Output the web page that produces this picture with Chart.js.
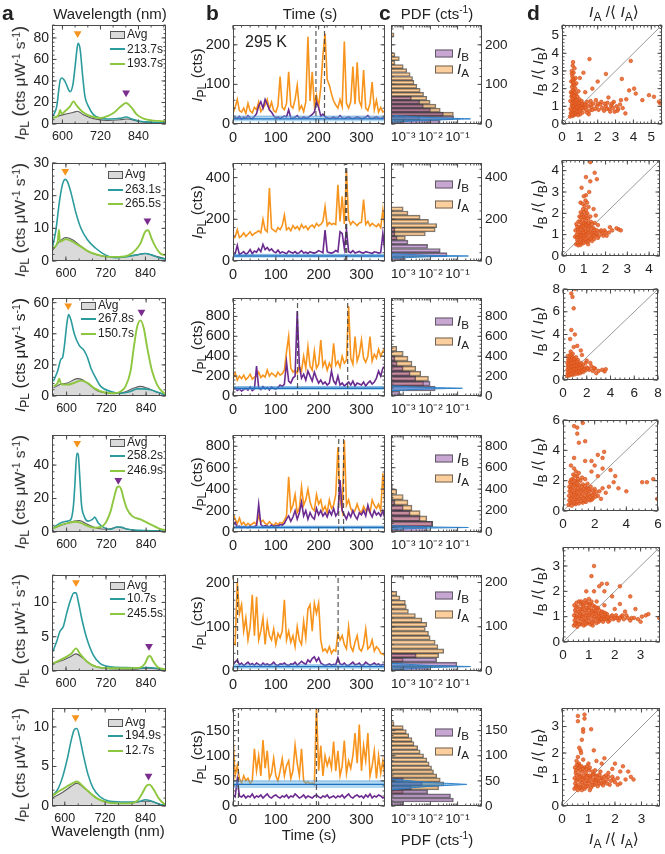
<!DOCTYPE html>
<html><head><meta charset="utf-8">
<script src="https://cdn.jsdelivr.net/npm/chart.js@4.4.1/dist/chart.umd.min.js"></script>
<style>
html,body{margin:0;padding:0;background:#fff}
body{width:665px;height:854px;position:relative;overflow:hidden;font-family:"Liberation Sans",Arial,"DejaVu Sans",sans-serif;color:#222}
canvas{position:absolute}
.t{position:absolute;white-space:nowrap;line-height:1;transform:translate(-50%,-50%)}
.r{transform:translate(-50%,-50%) rotate(-90deg)}
.l{transform:translate(0,-50%)}
.I{font-style:italic}
sub{font-size:0.78em;vertical-align:-0.32em;line-height:0}
sup{font-size:0.68em;vertical-align:0.5em;line-height:0}
.big{font-size:1.18em}
.pl{position:absolute;font-weight:bold;font-size:21px;line-height:1}
.sw{display:inline-block;width:15px;vertical-align:middle;margin-right:2px;box-sizing:border-box}
</style></head><body>
<script>
// ================= DATA =================
const tealTime  = [213.7, 263.1, 267.8, 258.2, 10.7, 194.9];
const greenTime = [193.7, 265.5, 150.7, 246.9, 245.5, 12.7];
const tempLabel = '295 K';

// --- column a : spectra (wavelength nm, intensity) ---
const wlTicks = [600, 720, 840];
const wlRange = [[567,927],[558,902],[556,900],[556,900],[558,900],[562,901]];
const specMax = [92, 30, 63, 58, 14, 12.4];
const specTicks = [[0,20,40,60,80],[0,10,20,30],[0,20,40,60],[0,20,40],[0,5,10],[0,5,10]];

const teal1 = [[570,7.1],[582,16.4],[593,41],[598,42.8],[608,39.7],[619,32],[624,30],[633,36.6],[640,53.6],[647,72],[650,75],[656,69],[664,44],[671,25.7],[682,16.4],[698,8.7],[719,5.6],[750,4.7],[782,5.3],[801,6.5],[819,4.7],[845,2.5],[887,1.6],[924,0.9]];
const green1 = [[570,5.6],[588,8.7],[593,13],[597,9.5],[608,11.8],[624,16.4],[635,21],[645,17],[661,11.8],[677,8.7],[698,6.5],[719,5.6],[740,7.1],[761,10.2],[782,15.8],[801,19.5],[819,14.9],[835,8.7],[856,5],[887,3.1],[924,2.5]];
const avg1 = [[570,5.6],[603,8.7],[635,10.9],[647,11.8],[666,8.7],[698,5],[740,3.4],[782,4.0],[803,4.7],[845,2.2],[924,0.9]];
const peaks1 = [[648,84],[801,29]];

const teal2 = [[560,4.4],[570,9.6],[580,17.9],[590,23.6],[598,25],[605,24.2],[615,21],[630,14.8],[645,10.1],[665,6.5],[690,3.9],[720,1.8],[750,1],[780,1.25],[810,1.8],[840,2.3],[860,1.8],[880,1],[900,0.6]];
const green2 = [[560,3.9],[575,5.9],[579,9.6],[582,5.9],[600,6.7],[620,5.9],[645,4.4],[670,2.8],[700,1.8],[730,1.25],[760,1.25],[790,1.8],[810,3.3],[825,5.4],[840,9.1],[848,9.4],[858,7],[870,4.4],[885,2.3],[900,1.8]];
const avg2 = [[560,3.3],[580,5.9],[600,7.2],[620,6.5],[645,4.6],[670,2.8],[710,1.5],[760,1.25],[810,1.8],[840,2.3],[870,1.5],[900,0.7]];
const peaks2 = [[598,27.5],[846,12.3]];

const teal3 = [[560,9.5],[573,16],[583,23.7],[588,24.8],[593,31.4],[601,46.8],[606,52.3],[613,49],[623,40.2],[638,32.5],[653,29.2],[663,24.8],[673,18.2],[688,11.6],[703,6.2],[733,2.9],[763,1.8],[793,2.9],[813,4.6],[828,4.6],[853,4.0],[878,2.2],[900,0.7]];
const green3 = [[560,6.2],[573,8.4],[578,11.2],[583,7.7],[603,7.3],[623,8.4],[643,9.9],[663,8.4],[683,5.1],[713,2.4],[743,1.8],[763,2.9],[778,6.2],[793,16],[803,31.4],[813,44.6],[823,48.6],[833,43.5],[843,31.4],[858,16],[873,7.3],[888,2.9],[900,1.1]];
const avg3 = [[560,5.1],[583,7.7],[603,8.4],[633,11.2],[648,10.5],[668,7.3],[693,3.3],[733,1.8],[773,2.4],[803,5.1],[823,6.2],[843,5.1],[873,2.4],[900,0.7]];
const peaks3 = [[605,58],[826,54]];

const teal4 = [[560,2.6],[583,5.5],[603,6.5],[613,7.5],[621,16.4],[625,28.3],[631,47.1],[635,46.5],[640,32.3],[645,16.4],[653,9.5],[665,6.5],[678,7.5],[685,8.9],[695,5.5],[713,2.6],[733,1.6],[753,3],[763,3],[783,1.6],[823,1.0],[900,0.6]];
const green4 = [[560,2.2],[583,4.2],[603,5.3],[628,6.1],[643,5.5],[663,3.6],[683,2.6],[703,3],[718,5.5],[733,12.5],[743,20.4],[753,26.9],[759,27.3],[765,25.3],[773,19.4],[783,13.5],[798,9.5],[823,7.5],[853,4.6],[878,2.2],[900,1.0]];
const avg4 = [[560,2.2],[593,4.6],[623,6.5],[638,6.9],[663,4.6],[693,2.2],[723,1.6],[753,3],[773,2.2],[803,1.0],[900,0.4]];
const peaks4 = [[632,53],[756,31]];

const teal5 = [[560,2.8],[572,4.3],[582,5.8],[592,6.5],[602,8.4],[612,10.1],[624,11.4],[630,11.4],[637,10.1],[647,7.7],[662,4.8],[682,2.3],[702,1.1],[732,0.6],[782,0.5],[822,0.4],[842,0.5],[872,0.4],[899,0.15]];
const green5 = [[560,1.1],[582,1.6],[602,2.1],[617,2.6],[630,3.3],[642,2.5],[662,1.4],[692,0.6],[732,0.4],[782,0.4],[822,0.5],[837,1.1],[847,2.1],[852,2.2],[862,1.4],[877,0.5],[899,0.25]];
const avg5 = [[560,1.1],[592,1.6],[617,2.2],[630,2.5],[652,1.85],[677,0.9],[712,0.4],[802,0.25],[842,0.4],[899,0.15]];
const peaks5 = [[630,12.9],[849,3.6]];

const teal6 = [[562,1.25],[579,2.1],[594,3.75],[609,6.25],[619,8.3],[629,9.7],[636,9.8],[644,8.75],[654,6.7],[669,4],[684,2.3],[704,1.2],[734,0.6],[784,0.5],[824,0.6],[839,0.8],[859,0.6],[884,0.2],[901,0.1]];
const green6 = [[562,1.25],[584,1.9],[604,2.4],[624,2.9],[636,3.1],[649,2.7],[669,1.9],[694,1],[734,0.4],[784,0.33],[814,0.6],[829,1.5],[844,2.6],[852,2.7],[864,2.1],[879,1],[894,0.33],[901,0.2]];
const avg6 = [[562,1.0],[594,1.75],[619,2.5],[636,2.9],[654,2.4],[674,1.7],[704,0.8],[744,0.4],[794,0.33],[834,0.6],[854,0.6],[884,0.2],[901,0.1]];
const peaks6 = [[632,11.2],[849,3.8]];

// --- column b : time traces (s, cts) ---
const timeTicks = [0, 100, 200, 300];
const timeMax = 355;
const timeSec = [0,5,10,15,20,25,30,35,40,45,50,55,60,65,70,75,80,85,90,95,100,105,110,115,120,125,130,135,140,145,150,155,160,165,170,175,180,185,190,195,200,205,210,215,220,225,230,235,240,245,250,255,260,265,270,275,280,285,290,295,300,305,310,315,320,325,330,335,340,345,350,355];
const ctsMax = [250, 470, 985, 905, 217, 195];
const ctsTicks = [[0,100,200],[0,200,400],[0,200,400,600,800],[0,200,400,600,800],[0,100,200],[0,50,100,150]];

const orangeCts1 = [28,42,62,34,30,40,27,52,33,28,42,36, 56,31,40,48,62,38,55,34,30,46,120,42, 36,52,132,46,40,62,98,36,46,31,56,220, 58,132,48,72,44,92,174,228,112,98,76,58, 48,40,62,44,208,52,40,56,145,50,156,58, 44,136,40,34,52,106,36,60,30,42,30,34];
const purpleCts1 = [12,16,14,19,12,17,14,21,15,13,19,26, 46,56,40,62,50,36,30,21,15,18,14,17, 20,18,36,15,14,17,21,15,14,18,15,16, 20,24,30,56,42,20,25,18,16,14,15,18, 14,16,21,15,14,16,18,15,14,15,18,16, 14,15,17,21,15,14,16,18,15,14,16,15];
const orangeCts2 = [108,115,150,112,120,135,118,128,140,122,132,138, 145,135,200,150,140,350,155,148,140,160,150,170, 220,150,160,145,170,155,165,150,175,158,168,150, 165,172,160,180,168,175,190,260,170,185,175,180, 175,365,190,310,178,430,200,175,190,180,170,182, 185,295,175,190,168,180,172,165,178,160,245,150];
const purpleCts2 = [28,35,75,30,38,45,32,40,55,35,48,42, 60,45,80,55,65,50,58,45,40,52,38,44, 40,35,48,42,38,45,36,40,50,38,42,36, 45,40,38,42,50,45,40,148,45,40,38,42, 50,44,140,132,60,150,45,40,50,38,42,46, 40,38,45,42,40,36,44,42,38,40,132,40];
const orangeCts3 = [170,230,160,200,175,210,165,185,220,170,190,200, 240,185,210,190,260,200,230,215,195,240,210,225, 260,445,600,280,240,260,230,300,250,400,280,495, 300,260,450,280,320,563,300,350,260,330,280,529, 310,350,290,400,330,360,904,380,320,597,350,420, 563,380,340,400,597,350,420,380,470,400,450,480];
const purpleCts3 = [60,80,55,70,50,65,75,60,90,55,70,300, 80,65,95,70,85,60,90,75,70,85,110,95, 120,340,150,130,180,200,853,300,180,220,160,250, 200,150,240,180,130,160,120,140,110,130,250,150, 120,200,110,130,100,120,140,110,150,100,130,120, 110,140,100,130,150,120,140,180,250,200,280,300];
const orangeCts4 = [180,120,80,130,70,90,60,80,65,75,90,70, 150,90,110,80,70,95,75,60,85,70,90,80, 110,150,516,200,250,350,180,220,420,250,300,400, 280,220,200,350,260,300,200,240,180,300,220,250, 350,790,300,200,855,250,300,220,180,200,260,200, 180,240,200,220,180,300,250,220,260,200,548,220];
const purpleCts4 = [60,90,45,55,40,50,45,40,55,45,50,60, 258,70,50,60,55,45,65,50,60,55,70,65, 80,120,150,100,140,200,120,180,280,150,200,120, 180,140,120,220,160,200,150,180,140,200,160,220, 150,180,484,200,160,120,180,140,200,150,120,180, 160,200,150,250,180,140,200,160,180,150,200,120];
const orangeCts5 = [65,60,200,130,150,90,120,70,100,172,80,168, 70,90,120,60,110,80,70,95,60,85,75,90, 161,70,90,65,80,55,100,70,60,112,75,140, 150,90,153,130,153,70,45,50,42,55,40,48, 45,85,70,80,60,50,100,55,45,65,80,50, 45,60,95,50,55,70,45,55,50,40,38,35];
const purpleCts5 = [15,20,25,14,18,12,16,20,14,17,13,18, 15,12,18,14,16,13,15,20,14,12,16,15, 18,14,12,16,15,20,13,17,22,18,15,25, 20,28,32,22,30,18,15,12,14,16,13,15, 14,30,16,14,18,13,12,16,20,14,15,18, 12,14,20,16,13,15,18,14,16,12,15,14];
const orangeCts6 = [135,60,80,55,45,60,50,55,45,50,114,70, 100,60,131,75,110,55,65,95,60,50,70,94, 60,80,90,55,70,121,85,60,114,50,45,48, 44,46,42,199,70,120,60,100,80,95,75,128, 70,110,60,80,130,65,90,75,100,145,85,162, 70,120,90,145,60,80,110,55,100,65,90,55];
const purpleCts6 = [22,18,53,20,18,22,16,20,18,24,16,20, 18,22,16,20,24,18,16,20,22,18,16,20, 18,22,16,20,18,24,20,16,18,22,16,20, 18,16,20,22,18,16,20,18,22,16,18,20, 16,20,18,22,16,20,24,18,16,20,22,18, 20,16,22,18,24,16,20,18,22,20,16,18];

// background level [low, mean, high] (cts)
const bgLevel = [[7,13,20],[15,24,32],[60,78,95],[30,42,55],[5,10,14],[36,43,50]];

// --- column c : PDF histograms [bin centre cts, pdf] ---
const pdfRange = [3.55e-4, 0.79];
const pdfTicks = [1e-3, 1e-2, 1e-1];
const pdfTickLabels = ['10\u207B\u00B3', '10\u207B\u00B2', '10\u207B\u00B9'];

const histA1 = [[225,4.6e-4],[175,5e-4],[165,7.2e-4],[155,5e-4],[145,1.0e-3],[135,1.35e-3],[125,1.8e-3],[115,2.2e-3],[105,2.5e-3],[95,3.2e-3],[85,4.2e-3],[75,5.6e-3],[65,7.4e-3],[55,9.8e-3],[45,0.016],[35,0.023],[25,0.07],[15,0.004]];
const histB1 = [[65,2e-3],[55,4e-3],[45,5.5e-3],[35,0.01],[25,0.03],[15,0.072],[5,0.023]];
const histA2 = [[250,1.0e-3],[230,1.5e-3],[210,4.2e-3],[190,8.5e-3],[170,0.017],[150,0.015],[130,6.5e-3],[110,1.2e-3]];
const histB2 = [[150,5e-4],[130,5e-4],[110,6e-4],[90,1.5e-3],[70,7.9e-3],[50,0.023],[30,0.041],[10,1.2e-3]];
const histA3 = [[475,5.8e-4],[425,1.0e-3],[375,1.5e-3],[325,2.1e-3],[275,2.9e-3],[225,4.4e-3],[175,8.5e-3],[125,5.6e-3]];
const histB3 = [[375,5e-4],[325,6e-4],[275,1.0e-3],[225,1.8e-3],[175,2.9e-3],[125,9.8e-3],[75,0.015],[25,7.5e-4]];
const histA4 = [[375,5.8e-4],[325,1.0e-3],[275,1.5e-3],[225,2.1e-3],[175,4.2e-3],[125,7.4e-3],[75,0.012],[25,6e-4]];
const histB4 = [[425,4e-4],[325,4e-4],[275,5e-4],[225,1.0e-3],[175,1.8e-3],[125,4.2e-3],[75,0.012],[25,7.4e-3]];
const histA5 = [[175,5.8e-4],[165,7.6e-4],[155,1.2e-3],[145,1.3e-3],[135,1.55e-3],[125,2.8e-3],[115,4.9e-3],[105,7.4e-3],[95,6.5e-3],[85,8.5e-3],[75,9.8e-3],[65,0.015],[55,0.019],[45,0.031],[35,0.02],[25,1e-3]];
const histB5 = [[35,3e-3],[25,0.017],[15,0.095],[5,8.5e-3]];
const histA6 = [[164,4.6e-4],[156,1.0e-3],[148,1.3e-3],[140,1.6e-3],[132,2.1e-3],[124,2.5e-3],[116,3.4e-3],[108,4.2e-3],[100,5.6e-3],[92,7.4e-3],[84,9e-3],[76,0.011],[68,0.013],[60,0.017],[52,0.023],[44,0.031],[36,0.02],[28,1e-3]];
const histB6 = [[52,1e-3],[44,5e-3],[36,2e-3],[28,8e-3],[20,0.055],[12,0.07],[4,1e-3]];

// background-noise PDF [cts, pdf]
const noise1 = [[5,1e-4],[5,5e-4],[8,3e-3],[10,0.015],[11.5,0.06],[12.5,0.18],[13,0.30],[13.5,0.18],[14.5,0.06],[16,0.015],[18,3e-3],[21,5e-4],[21,1e-4]];
const noise2 = [[14,1e-4],[14,5e-4],[18,3e-3],[21,0.012],[22.5,0.05],[23.5,0.15],[24,0.25],[24.5,0.15],[25.5,0.05],[27,0.012],[30,3e-3],[34,5e-4],[34,1e-4]];
const noise3 = [[55,1e-4],[55,5e-4],[65,2.5e-3],[71,0.01],[74,0.035],[76.5,0.09],[78,0.15],[79.5,0.09],[82,0.035],[85,0.01],[91,2.5e-3],[100,5e-4],[100,1e-4]];
const noise4 = [[25,1e-4],[25,5e-4],[33,3e-3],[37,0.012],[39.5,0.05],[41,0.15],[42,0.25],[43,0.15],[44.5,0.05],[47,0.012],[51,3e-3],[58,5e-4],[58,1e-4]];
const noise5 = [[3,1e-4],[3,5e-4],[6,3e-3],[8,0.015],[9,0.06],[9.6,0.18],[10,0.30],[10.4,0.18],[11,0.06],[12,0.015],[14,3e-3],[17,5e-4],[17,1e-4]];
const noise6 = [[33,1e-4],[33,5e-4],[37,3e-3],[39.5,0.012],[41,0.045],[42.3,0.13],[43,0.22],[43.7,0.13],[45,0.045],[46.5,0.012],[49,3e-3],[53,5e-4],[53,1e-4]];

// --- column d : normalised intensity correlation [IA/<IA>, IB/<IB>] ---
const ratioMax = [5.6, 4.5, 8, 6, 3.75, 3.7];
const ratioTicks = [[0,1,2,3,4,5],[0,1,2,3,4],[0,2,4,6,8],[0,2,4,6],[0,1,2,3],[0,1,2,3]];

const scat1 = [[0.45,0.42],[0.52,0.61],[0.48,0.85],[0.55,1.05],[0.47,1.3],[0.53,1.55],[0.5,1.8],[0.56,2.1],[0.52,2.4],[0.58,2.7],[0.55,3.0],[0.6,3.3],[0.62,3.5],[0.65,2.9],[0.68,2.5],[0.63,2.2],[0.66,1.9],[0.62,1.65],[0.67,1.4],[0.63,1.15],[0.68,0.9],[0.64,0.7],[0.66,0.5],[0.75,0.55],[0.78,0.75],[0.74,0.95],[0.77,1.2],[0.73,1.45],[0.79,1.7],[0.75,2.0],[0.8,2.3],[0.76,2.6],[0.85,0.6],[0.88,0.85],[0.84,1.05],[0.9,1.3],[0.86,1.55],[0.92,1.85],[0.95,0.7],[0.98,0.95],[1.0,1.15],[0.97,1.4],[1.05,0.8],[1.08,1.05],[1.1,1.3],[1.15,0.65],[1.2,0.9],[1.25,1.1],[1.35,0.8],[1.45,1.0],[1.55,0.75],[1.65,0.95],[1.75,1.15],[1.85,0.85],[1.95,1.0],[2.05,0.8],[2.15,1.1],[2.25,0.9],[2.35,0.75],[2.45,1.0],[2.55,1.2],[2.65,0.85],[2.75,1.05],[2.85,0.9],[2.95,0.7],[3.05,1.0],[3.15,0.85],[3.25,1.1],[3.4,0.9],[3.55,0.6],[1.4,1.25],[1.6,1.3],[1.9,1.35],[2.2,1.25],[2.9,1.25],[3.3,1.35],[1.5,0.55],[1.54,3.67],[2.46,2.83],[3.35,2.55],[3.85,3.57],[4.04,2.0],[3.76,1.9],[4.13,1.72],[4.5,1.35],[4.87,1.63],[5.15,1.54],[5.43,1.26],[5.5,1.17],[1.2,2.9],[1.0,2.6],[2.0,2.4],[1.7,2.0],[2.6,1.5],[3.6,1.4],[1.3,1.8],[0.5,0.62],[0.58,0.45],[0.71,0.62],[0.82,0.72],[0.7,1.05],[0.6,1.3],[0.57,1.75],[0.71,1.75],[0.6,2.45],[0.7,2.2],[0.55,2.85],[0.7,3.15],[0.93,1.05],[1.02,0.55],[1.3,0.95],[1.12,1.15],[1.4,0.65],[1.7,0.8],[2.0,1.15],[2.5,0.85],[2.8,1.15],[3.1,0.75],[0.58,0.52],[0.57,0.78],[0.6,1.0],[0.57,1.2],[0.6,1.45],[0.57,1.65],[0.6,1.9],[0.62,2.35],[0.6,2.55],[0.7,0.8],[0.72,1.3],[0.7,1.6],[0.82,0.95],[0.82,1.35],[0.9,0.5],[0.95,1.2],[1.1,0.9],[1.3,1.1],[1.6,1.1],[2.4,1.15],[2.7,0.7]];
const scat2 = [[0.65,0.55],[0.7,0.75],[0.68,1.0],[0.72,1.25],[0.66,1.5],[0.75,0.5],[0.8,0.65],[0.78,0.9],[0.82,1.1],[0.79,1.35],[0.83,1.6],[0.8,1.85],[0.9,0.6],[0.93,0.8],[0.88,1.0],[0.95,1.2],[0.9,1.45],[0.94,1.7],[0.92,1.95],[0.97,2.2],[1.0,0.7],[1.03,0.9],[1.0,1.1],[1.05,1.3],[1.02,1.55],[1.06,1.8],[1.0,2.05],[1.04,2.35],[1.08,2.6],[1.1,2.85],[1.12,0.65],[1.15,0.85],[1.12,1.05],[1.18,1.25],[1.14,1.5],[1.2,1.75],[1.16,2.0],[1.22,2.3],[1.25,0.75],[1.28,0.95],[1.3,1.15],[1.26,1.4],[1.33,1.6],[1.3,1.85],[1.4,0.9],[1.42,1.1],[1.45,1.3],[1.5,1.55],[1.38,0.7],[1.55,1.0],[1.6,1.2],[1.7,0.95],[1.75,1.15],[1.85,1.05],[1.95,1.2],[2.05,0.95],[2.15,1.1],[1.65,1.45],[0.6,0.9],[0.62,1.2],[1.3,4.4],[1.5,3.9],[1.6,3.6],[1.3,3.5],[1.1,3.7],[0.9,3.2],[1.0,2.8],[1.25,3.0],[2.3,1.2],[2.6,1.25],[2.7,1.2],[2.5,1.3],[2.2,1.35],[1.45,2.2],[1.55,1.9],[0.85,2.5],[0.72,0.62],[0.86,0.78],[0.96,0.98],[1.09,1.18],[1.2,1.4],[0.86,1.25],[0.98,1.5],[1.1,1.65],[0.86,2.05],[1.1,2.15],[1.36,1.3],[1.2,0.55],[1.48,0.8],[0.7,0.88],[0.74,1.12],[0.7,1.38],[0.76,1.62],[0.85,0.52],[0.86,0.95],[0.88,1.38],[0.87,1.8],[0.98,0.6],[0.99,1.4],[1.0,1.85],[1.08,0.8],[1.1,1.0],[1.1,1.45],[1.12,1.9],[1.2,0.7],[1.22,1.1],[1.22,1.55],[1.32,0.82],[1.36,1.05],[1.38,1.5],[1.48,0.95],[1.5,1.2],[1.6,1.05],[1.65,0.85],[1.8,1.2],[1.9,0.95],[2.0,1.1],[0.95,2.45],[1.15,2.5]];
const scat3 = [[0.35,0.35],[0.4,0.6],[0.38,0.9],[0.42,1.2],[0.37,1.5],[0.45,1.8],[0.4,2.1],[0.55,0.4],[0.6,0.7],[0.58,1.0],[0.62,1.3],[0.57,1.6],[0.63,1.9],[0.6,2.2],[0.65,2.5],[0.8,0.45],[0.83,0.75],[0.78,1.05],[0.85,1.35],[0.8,1.65],[0.86,1.95],[0.82,2.3],[1.0,0.5],[1.05,0.8],[1.0,1.1],[1.08,1.4],[1.02,1.7],[1.1,2.0],[1.25,0.55],[1.28,0.85],[1.22,1.15],[1.3,1.45],[1.26,1.75],[1.45,0.6],[1.5,0.9],[1.47,1.2],[1.52,1.5],[1.7,0.7],[1.72,1.0],[1.68,1.3],[1.9,0.85],[2.0,1.1],[2.2,0.9],[2.4,1.2],[2.5,0.8],[1.9,1.5],[2.3,1.5],[0.7,7.6],[0.8,7.3],[1.0,8.0],[0.9,6.3],[0.7,4.4],[1.0,4.0],[0.6,3.6],[1.2,3.0],[1.5,2.6],[0.9,2.9],[2.7,1.0],[3.3,0.9],[3.5,0.75],[3.6,0.95],[2.8,0.6],[1.6,2.2],[2.0,1.7],[0.48,0.45],[0.5,0.75],[0.5,1.05],[0.5,1.35],[0.52,1.7],[0.7,0.55],[0.7,0.85],[0.72,1.2],[0.7,1.5],[0.72,1.8],[0.72,2.1],[0.92,0.65],[0.92,0.95],[0.94,1.25],[0.92,1.55],[0.95,1.85],[1.15,0.7],[1.15,1.0],[1.15,1.3],[1.18,1.6],[1.38,0.75],[1.38,1.05],[1.4,1.35],[1.6,0.8],[1.6,1.15],[1.8,0.95],[2.1,1.0],[2.6,1.05],[3.0,0.8]];
const scat4 = [[0.35,0.4],[0.4,0.7],[0.38,1.0],[0.42,1.3],[0.4,1.6],[0.45,1.9],[0.55,0.35],[0.6,0.6],[0.58,0.9],[0.62,1.2],[0.57,1.5],[0.63,1.8],[0.6,2.1],[0.65,2.4],[0.8,0.45],[0.83,0.75],[0.78,1.05],[0.85,1.35],[0.8,1.65],[0.86,1.95],[0.82,2.6],[1.0,0.5],[1.05,0.8],[1.0,1.1],[1.08,1.4],[1.02,1.7],[1.1,2.0],[1.25,0.55],[1.28,0.85],[1.22,1.15],[1.3,1.45],[1.26,1.75],[1.45,0.6],[1.5,0.9],[1.47,1.2],[1.52,1.5],[1.55,1.8],[1.7,0.7],[1.72,1.0],[1.68,1.3],[1.75,1.6],[1.9,0.85],[1.95,1.15],[2.0,1.45],[2.2,1.0],[2.3,1.3],[2.5,1.5],[2.4,0.8],[0.5,3.0],[0.7,2.8],[0.9,2.3],[1.2,2.2],[1.4,2.1],[1.0,2.5],[0.7,5.6],[0.9,5.5],[1.2,6.0],[1.25,5.8],[0.9,5.1],[1.0,4.5],[1.4,4.6],[0.7,3.5],[1.4,3.3],[1.8,3.3],[2.2,3.7],[2.5,3.5],[2.6,3.9],[2.0,3.0],[2.5,2.8],[3.0,2.7],[3.2,1.9],[3.5,1.5],[4.0,1.3],[5.0,1.9],[5.3,1.9],[5.7,2.1],[5.95,0.8],[2.7,1.2],[3.3,2.3],[2.9,1.6],[1.8,2.6],[2.2,2.3],[0.48,0.55],[0.5,0.85],[0.5,1.15],[0.48,1.45],[0.52,1.75],[0.5,2.05],[0.7,0.5],[0.72,0.8],[0.7,1.1],[0.72,1.4],[0.7,1.7],[0.74,2.0],[0.9,0.6],[0.92,0.9],[0.9,1.2],[0.94,1.5],[0.9,1.8],[1.15,0.65],[1.15,0.95],[1.15,1.3],[1.18,1.6],[1.38,0.7],[1.38,1.0],[1.4,1.35],[1.4,1.65],[1.6,0.8],[1.6,1.1],[1.62,1.45],[1.82,0.75],[1.85,1.05],[1.85,1.35],[2.1,1.25],[2.05,0.95],[0.75,2.3],[0.95,2.1]];
const scat5 = [[0.42,0.65],[0.45,0.85],[0.43,1.05],[0.47,1.25],[0.44,1.45],[0.55,0.6],[0.58,0.8],[0.53,1.0],[0.6,1.2],[0.56,1.4],[0.62,1.6],[0.68,0.7],[0.7,0.9],[0.66,1.1],[0.72,1.3],[0.69,1.5],[0.8,0.65],[0.82,0.85],[0.78,1.05],[0.85,1.25],[0.8,1.45],[0.86,1.65],[0.92,0.75],[0.95,0.95],[0.9,1.15],[0.97,1.35],[0.93,1.55],[1.05,0.7],[1.08,0.9],[1.03,1.1],[1.1,1.3],[1.06,1.5],[1.18,0.8],[1.2,1.0],[1.16,1.2],[1.22,1.4],[1.3,0.75],[1.33,0.95],[1.28,1.15],[1.35,1.35],[1.42,0.85],[1.45,1.05],[1.4,1.25],[1.55,0.8],[1.58,1.0],[1.52,1.2],[1.65,0.9],[1.7,1.1],[1.8,0.85],[1.85,1.0],[1.95,0.9],[2.05,1.05],[2.15,0.85],[2.25,1.0],[2.35,0.9],[2.5,0.95],[2.6,0.85],[2.75,0.95],[2.9,0.9],[3.05,1.0],[1.0,1.7],[1.3,1.6],[1.6,1.45],[2.0,1.3],[2.4,1.2],[1.2,3.0],[1.1,2.6],[1.5,2.3],[1.7,2.3],[1.2,2.0],[1.6,2.0],[2.2,2.2],[2.6,1.8],[3.2,1.05],[3.3,1.1],[3.72,0.95],[2.2,1.5],[1.9,1.8],[1.4,2.2],[0.9,2.0],[2.8,1.3],[3.0,0.8],[0.5,0.75],[0.5,1.15],[0.63,0.95],[0.75,1.2],[0.88,1.05],[1.0,1.25],[1.12,1.05],[1.25,1.25],[1.38,1.1],[1.5,0.95],[1.62,1.15],[1.75,0.95],[1.9,1.05],[2.1,0.95],[2.3,1.05],[1.15,0.65],[0.75,1.55],[0.48,0.72],[0.5,0.95],[0.5,1.35],[0.52,1.55],[0.62,0.7],[0.64,1.05],[0.65,1.3],[0.75,0.78],[0.76,1.0],[0.77,1.4],[0.88,0.7],[0.88,0.9],[0.9,1.35],[0.9,1.55],[1.0,0.8],[1.0,1.05],[1.02,1.45],[1.12,0.75],[1.12,1.2],[1.15,1.45],[1.25,0.9],[1.25,1.1],[1.28,1.35],[1.38,0.8],[1.38,1.0],[1.48,0.9],[1.48,1.15],[1.6,0.9],[1.62,1.08],[1.72,0.98],[1.75,0.8],[2.0,0.95],[2.2,0.95],[2.45,1.05],[2.65,0.95],[0.7,1.6],[1.1,1.6]];
const scat6 = [[0.47,0.65],[0.5,0.85],[0.48,1.05],[0.52,1.25],[0.49,1.45],[0.6,0.6],[0.63,0.8],[0.58,1.0],[0.65,1.2],[0.61,1.4],[0.64,1.6],[0.72,0.7],[0.75,0.9],[0.7,1.1],[0.77,1.3],[0.73,1.5],[0.85,0.65],[0.87,0.85],[0.83,1.05],[0.9,1.25],[0.85,1.45],[0.97,0.75],[1.0,0.95],[0.95,1.15],[1.02,1.35],[1.1,0.7],[1.13,0.9],[1.08,1.1],[1.15,1.3],[1.22,0.8],[1.25,1.0],[1.2,1.2],[1.35,0.75],[1.38,0.95],[1.33,1.15],[1.48,0.85],[1.5,1.05],[1.6,0.9],[1.7,1.0],[1.8,0.8],[1.9,1.1],[2.0,0.9],[2.1,1.05],[2.2,0.85],[1.45,1.3],[1.75,1.25],[0.55,1.7],[0.8,1.75],[1.0,1.6],[0.6,3.4],[0.6,3.2],[0.85,3.45],[0.85,3.3],[0.8,2.9],[0.8,2.8],[1.1,2.9],[0.75,2.5],[0.65,2.2],[0.7,2.1],[1.2,2.1],[1.3,1.7],[1.5,1.6],[1.6,1.8],[2.0,1.6],[2.2,1.3],[2.3,1.5],[2.5,1.3],[2.6,1.1],[2.7,1.0],[1.9,1.4],[2.4,1.0],[0.55,0.75],[0.55,1.15],[0.68,0.95],[0.8,1.15],[0.92,0.95],[1.05,1.15],[1.18,1.0],[1.3,0.95],[1.42,1.05],[1.55,0.95],[1.65,1.15],[1.85,0.95],[0.68,1.35],[0.95,1.5],[1.25,1.35],[0.6,1.55],[1.05,0.6],[0.75,0.6],[0.52,0.72],[0.54,0.95],[0.53,1.35],[0.56,1.55],[0.66,0.7],[0.66,1.1],[0.67,1.48],[0.78,0.78],[0.79,1.0],[0.8,1.4],[0.9,0.72],[0.92,1.1],[0.92,1.38],[1.02,0.85],[1.04,1.05],[1.05,1.45],[1.15,0.78],[1.16,1.18],[1.28,0.88],[1.28,1.1],[1.4,0.85],[1.42,1.18],[1.55,0.78],[1.58,1.1],[1.7,0.85],[1.75,1.1],[1.95,1.0],[2.1,0.8],[0.6,1.85],[0.72,2.0]];

// ================= LAYOUT =================
const rowTop = [25, 163, 298, 435, 575, 708];
const rowH   = [99, 98, 98, 97, 96, 98];
const colA = [52, 114], colB = [233, 152], colC = [391, 91];
const dBox = [[562,25,100,99],[562,160,98,96],[563,289,95,91],[563,420,95,91],[563,547,97,95],[562,708,98,98]];
const legAx = [110,108,81,110,110,108];
const legAy = [[34,48.5,63],[174,189,203],[305,318,333],[442,455,470],[585,598,613],[722,735,750]];
const legCy = [[52,68],[183,203],[320,340],[457,477],[594,613],[731,750]];

const C = {orange:'#f7941d', purple:'#6b2a90', teal:'#2b9b9d', green:'#8dc63f', tri2:'#7b2d8e', scatter:'#d9521b'};

const specTeal = [teal1,teal2,teal3,teal4,teal5,teal6];
const specGreen = [green1,green2,green3,green4,green5,green6];
const specAvg = [avg1,avg2,avg3,avg4,avg5,avg6];
const specPeaks = [peaks1,peaks2,peaks3,peaks4,peaks5,peaks6];
const traceA = [orangeCts1,orangeCts2,orangeCts3,orangeCts4,orangeCts5,orangeCts6];
const traceB = [purpleCts1,purpleCts2,purpleCts3,purpleCts4,purpleCts5,purpleCts6];
const histA = [histA1,histA2,histA3,histA4,histA5,histA6];
const histB = [histB1,histB2,histB3,histB4,histB5,histB6];
const noise = [noise1,noise2,noise3,noise4,noise5,noise6];
const scat = [scat1,scat2,scat3,scat4,scat5,scat6];

// ================= HELPERS =================
Chart.defaults.font.family = '"Liberation Sans", Arial, sans-serif';
Chart.defaults.color = '#222';

const framePlugin = {
  id: 'frame',
  afterDraw(chart) {
    const o = chart.options.plugins.frame || {};
    const {ctx, chartArea: a} = chart;
    const xs = chart.scales.x, ys = chart.scales.y;
    const L = Math.round(a.left) + 0.5, R = Math.round(a.right) - 0.5;
    const T = Math.round(a.top) + 0.5, B = Math.round(a.bottom) - 0.5;
    ctx.save();
    ctx.strokeStyle = '#4a4a4a'; ctx.lineWidth = 1;
    ctx.beginPath();
    const tk = (isX, v, len) => {
      const p = (isX ? xs : ys).getPixelForValue(v);
      if (isX) { if (p < a.left - 0.5 || p > a.right + 0.5) return; ctx.moveTo(p, B); ctx.lineTo(p, B - len); ctx.moveTo(p, T); ctx.lineTo(p, T + len); }
      else { if (p < a.top - 0.5 || p > a.bottom + 0.5) return; ctx.moveTo(L, p); ctx.lineTo(L + len, p); ctx.moveTo(R, p); ctx.lineTo(R - len, p); }
    };
    (o.xMaj || []).forEach(v => tk(true, v, 4));
    (o.xMin || []).forEach(v => tk(true, v, 2));
    (o.yMaj || []).forEach(v => tk(false, v, 4));
    (o.yMin || []).forEach(v => tk(false, v, 2));
    ctx.stroke();
    ctx.strokeRect(L, T, R - L, B - T);
    ctx.restore();
  }
};
Chart.register(framePlugin);

function linMinor(min, max, ticks, div) {
  const step = (ticks[1] - ticks[0]) / div, out = [];
  for (let k = Math.ceil(min / step - 1e-9); k * step <= max + 1e-9; k++) out.push(k * step);
  return out;
}
function logMinor(min, max) {
  const out = [];
  for (let e = -5; e <= 1; e++) for (let m = 2; m <= 9; m++) { const v = m * Math.pow(10, e); if (v >= min && v <= max) out.push(v); }
  return out;
}
function makeCanvas(L, T, W, H, p) {
  const c = document.createElement('canvas');
  const cw = W + p.l + p.r, ch = H + p.t + p.b;
  c.width = cw; c.height = ch;
  c.style.left = (L - p.l) + 'px'; c.style.top = (T - p.t) + 'px';
  c.style.width = cw + 'px'; c.style.height = ch + 'px';
  document.body.appendChild(c);
  return c;
}
function xAxis(type, min, max, ticks, size, h, cb) {
  return {type, min, max, offset:false, grid:{display:false, drawTicks:false}, border:{display:false},
    ticks:{font:{size}, color:'#222', padding:5, autoSkip:false, maxRotation:0, minRotation:0, callback: cb || (v => String(v))},
    afterBuildTicks: s => { s.ticks = ticks.map(v => ({value:v})); },
    afterFit: s => { s.height = h; s.paddingLeft = 0; s.paddingRight = 0; }};
}
function yAxis(type, min, max, ticks, size, w, pos) {
  return {type, min, max, position: pos || 'left', offset:false, grid:{display:false, drawTicks:false}, border:{display:false},
    ticks:{font:{size}, color:'#222', padding:3, autoSkip:false, callback: v => String(v)},
    afterBuildTicks: s => { s.ticks = ticks.map(v => ({value:v})); },
    afterFit: s => { s.width = w; s.paddingTop = 0; s.paddingBottom = 0; }};
}
function opts(p, scales, frame, right, extra) {
  return Object.assign({responsive:false, animation:false, events:[],
    layout:{autoPadding:false, padding: right ? {left:p.l, right:0, top:p.t, bottom:0} : {left:0, right:p.r, top:p.t, bottom:0}},
    plugins:{legend:{display:false}, tooltip:{enabled:false}, frame},
    scales}, extra || {});
}
const xy = arr => arr.map(d => ({x:d[0], y:d[1]}));

function addText(html, x, y, size, cls, style) {
  const d = document.createElement('div');
  d.className = 't ' + (cls || '');
  d.style.left = x + 'px'; d.style.top = y + 'px'; d.style.fontSize = size + 'px';
  if (style) Object.assign(d.style, style);
  d.innerHTML = html;
  document.body.appendChild(d);
  return d;
}

// ================= PANELS =================
for (let r = 0; r < 6; r++) {
  const T = rowTop[r], H = rowH[r];

  // ---- a : spectra ----
  {
    const p = {l:40, r:6, t:6, b:24};
    const cv = makeCanvas(colA[0], T, colA[1], H, p);
    const pk = specPeaks[r];
    new Chart(cv, {
      type:'line',
      data:{datasets:[
        {type:'scatter', data:[{x:pk[0][0], y:pk[0][1]}], pointStyle:'triangle', rotation:180, pointRadius:4.5, backgroundColor:C.orange, borderColor:C.orange, borderWidth:0},
        {type:'scatter', data:[{x:pk[1][0], y:pk[1][1]}], pointStyle:'triangle', rotation:180, pointRadius:4.5, backgroundColor:C.tri2, borderColor:C.tri2, borderWidth:0},
        {data:xy(specGreen[r]), borderColor:C.green, borderWidth:1.9, pointRadius:0, fill:false, cubicInterpolationMode:'monotone'},
        {data:xy(specTeal[r]), borderColor:C.teal, borderWidth:1.6, pointRadius:0, fill:false, cubicInterpolationMode:'monotone'},
        {data:xy(specAvg[r]), borderColor:'#5c5c5c', borderWidth:1.1, backgroundColor:'#dadada', fill:'origin', pointRadius:0, cubicInterpolationMode:'monotone'}
      ]},
      options: opts(p, {
        x: xAxis('linear', wlRange[r][0], wlRange[r][1], wlTicks, 12.5, p.b),
        y: yAxis('linear', 0, specMax[r], specTicks[r], 14, p.l)
      }, {xMaj:wlTicks, xMin:linMinor(wlRange[r][0], wlRange[r][1], wlTicks, 3), yMaj:specTicks[r], yMin:linMinor(0, specMax[r], specTicks[r], 5)})
    });
  }

  // ---- b : time traces ----
  {
    const p = {l:40, r:4, t:6, b:24};
    const cv = makeCanvas(colB[0], T, colB[1], H, p);
    const bg = bgLevel[r];
    const trace = arr => timeSec.map((t, i) => ({x:t, y:arr[i]}));
    new Chart(cv, {
      type:'line',
      data:{datasets:[
        {data:[{x:tealTime[r], y:0},{x:tealTime[r], y:ctsMax[r]}], borderColor:'rgba(60,60,60,0.85)', borderDash:[5,3], borderWidth:1.2, pointRadius:0},
        {data:[{x:greenTime[r], y:0},{x:greenTime[r], y:ctsMax[r]}], borderColor:'rgba(60,60,60,0.85)', borderDash:[5,3], borderWidth:1.2, pointRadius:0},
        {data:[{x:0, y:bg[1]},{x:timeMax, y:bg[1]}], borderColor:'#1f6fbf', borderWidth:1.4, pointRadius:0},
        {data:[{x:0, y:bg[2]},{x:timeMax, y:bg[2]}], borderColor:'rgba(50,130,200,0.6)', borderWidth:0.8, backgroundColor:'rgba(100,180,230,0.5)', fill:{value:bg[0]}, pointRadius:0},
        {data:trace(traceB[r]), borderColor:C.purple, borderWidth:1.6, pointRadius:0},
        {data:trace(traceA[r]), borderColor:C.orange, borderWidth:1.6, pointRadius:0}
      ]},
      options: opts(p, {
        x: xAxis('linear', 0, timeMax, timeTicks, 14.5, p.b),
        y: yAxis('linear', 0, ctsMax[r], ctsTicks[r], 14.5, p.l)
      }, {xMaj:timeTicks, xMin:linMinor(0, timeMax, timeTicks, 5), yMaj:ctsTicks[r], yMin:linMinor(0, ctsMax[r], ctsTicks[r], 5)})
    });
  }

  // ---- c : histograms ----
  {
    const p = {l:4, r:34, t:6, b:24};
    const cv = makeCanvas(colC[0], T, colC[1], H, p);
    const bars = arr => arr.map(d => ({x:d[1], y:d[0]}));
    new Chart(cv, {
      type:'bar',
      data:{datasets:[
        {type:'line', data:noise[r].map(d => ({x:d[1], y:d[0]})), fill:'shape', backgroundColor:'rgba(45,140,215,0.55)', borderColor:'#2a7fc8', borderWidth:1, pointRadius:0, tension:0.2},
        {data:bars(histB[r]), backgroundColor:'rgba(130,60,155,0.45)', borderColor:'rgba(55,55,55,0.7)', borderWidth:1, barPercentage:1, categoryPercentage:1, grouped:false, base:pdfRange[0]},
        {data:bars(histA[r]), backgroundColor:'rgba(247,160,60,0.5)', borderColor:'rgba(55,55,55,0.7)', borderWidth:1, barPercentage:1, categoryPercentage:1, grouped:false, base:pdfRange[0]}
      ]},
      options: opts(p, {
        x: xAxis('logarithmic', pdfRange[0], pdfRange[1], pdfTicks, 13.5, p.b, (v, i) => pdfTickLabels[i]),
        y: yAxis('linear', 0, ctsMax[r], ctsTicks[r], 13.5, p.r, 'right')
      }, {xMaj:pdfTicks, xMin:logMinor(pdfRange[0], pdfRange[1]), yMaj:ctsTicks[r], yMin:linMinor(0, ctsMax[r], ctsTicks[r], 5)}, true, {indexAxis:'y'})
    });
  }

  // ---- d : scatter ----
  {
    const [L, TT, W, HH] = dBox[r];
    const p = {l:18, r:6, t:6, b:22};
    const cv = makeCanvas(L, TT, W, HH, p);
    const m = ratioMax[r];
    new Chart(cv, {
      type:'scatter',
      data:{datasets:[
        {data:xy(scat[r]), pointRadius:1.8, pointBackgroundColor:'rgba(230,100,40,0.85)', pointBorderColor:C.scatter, pointBorderWidth:0.7},
        {data:[{x:0, y:0},{x:m, y:m}], showLine:true, borderColor:'#9a9a9a', borderWidth:1, pointRadius:0}
      ]},
      options: opts(p, {
        x: xAxis('linear', 0, m, ratioTicks[r], 13.5, p.b),
        y: yAxis('linear', 0, m, ratioTicks[r], 13.5, p.l)
      }, {xMaj:ratioTicks[r], xMin:linMinor(0, m, ratioTicks[r], 5), yMaj:ratioTicks[r], yMin:linMinor(0, m, ratioTicks[r], 5)})
    });
  }

  // ---- texts for this row ----
  const IPL = '<span class="I">I</span><sub>PL</sub>';
  addText(IPL + ' <span class="big">(</span>cts &mu;W<sup>-1</sup> s<sup>-1</sup><span class="big">)</span>', 19, T + H / 2 + 8, 15.5, 'r');
  addText(IPL + ' (cts)', 197, T + H / 2, 15.5, 'r');
  const db = dBox[r];
  addText('<span class="I">I</span><sub>B</sub> /\u27E8 <span class="I">I</span><sub>B</sub>\u27E9', 538, db[1] + db[3] / 2 - 4, 15.5, 'r');

  // legend a
  const lx = legAx[r], ly = legAy[r];
  addText('<span class="sw" style="height:8px;background:#dadada;border:1px solid #555"></span>Avg', lx, ly[0], 12, 'l');
  addText('<span class="sw" style="height:2px;background:' + C.teal + '"></span>' + tealTime[r].toFixed(1) + 's', lx, ly[1], 12, 'l');
  addText('<span class="sw" style="height:2px;background:' + C.green + '"></span>' + greenTime[r].toFixed(1) + 's', lx, ly[2], 12, 'l');
  // legend c
  const cy = legCy[r];
  addText('<span class="sw" style="width:18px;height:8px;margin-right:4px;background:rgba(130,60,155,0.45);border:1px solid rgba(55,55,55,0.7)"></span><span class="I">I</span><sub>B</sub>', 435, cy[0], 15, 'l');
  addText('<span class="sw" style="width:18px;height:8px;margin-right:4px;background:rgba(247,160,60,0.5);border:1px solid rgba(55,55,55,0.7)"></span><span class="I">I</span><sub>A</sub>', 435, cy[1], 15, 'l');
}

// ---- global titles ----
const letters = [['a',2],['b',206],['c',379],['d',527]];
letters.forEach(([t, x]) => { const d = document.createElement('div'); d.className = 'pl'; d.style.left = x + 'px'; d.style.top = '2px'; d.textContent = t; document.body.appendChild(d); });
addText('Wavelength (nm)', 110, 13, 15);
addText('Time (s)', 310, 13, 15);
addText('PDF (cts<sup>-1</sup>)', 437, 13, 15);
addText('<span class="I">I</span><sub>A</sub> /\u27E8 <span class="I">I</span><sub>A</sub>\u27E9', 614, 12, 15.5);
addText('Wavelength (nm)', 108, 830, 15);
addText('Time (s)', 309, 834, 15);
addText('PDF (cts<sup>-1</sup>)', 437, 839, 15);
addText('<span class="I">I</span><sub>A</sub> /\u27E8 <span class="I">I</span><sub>A</sub>\u27E9', 614, 839, 15.5);
addText(tempLabel, 266, 42, 16);
</script>
</body></html>
